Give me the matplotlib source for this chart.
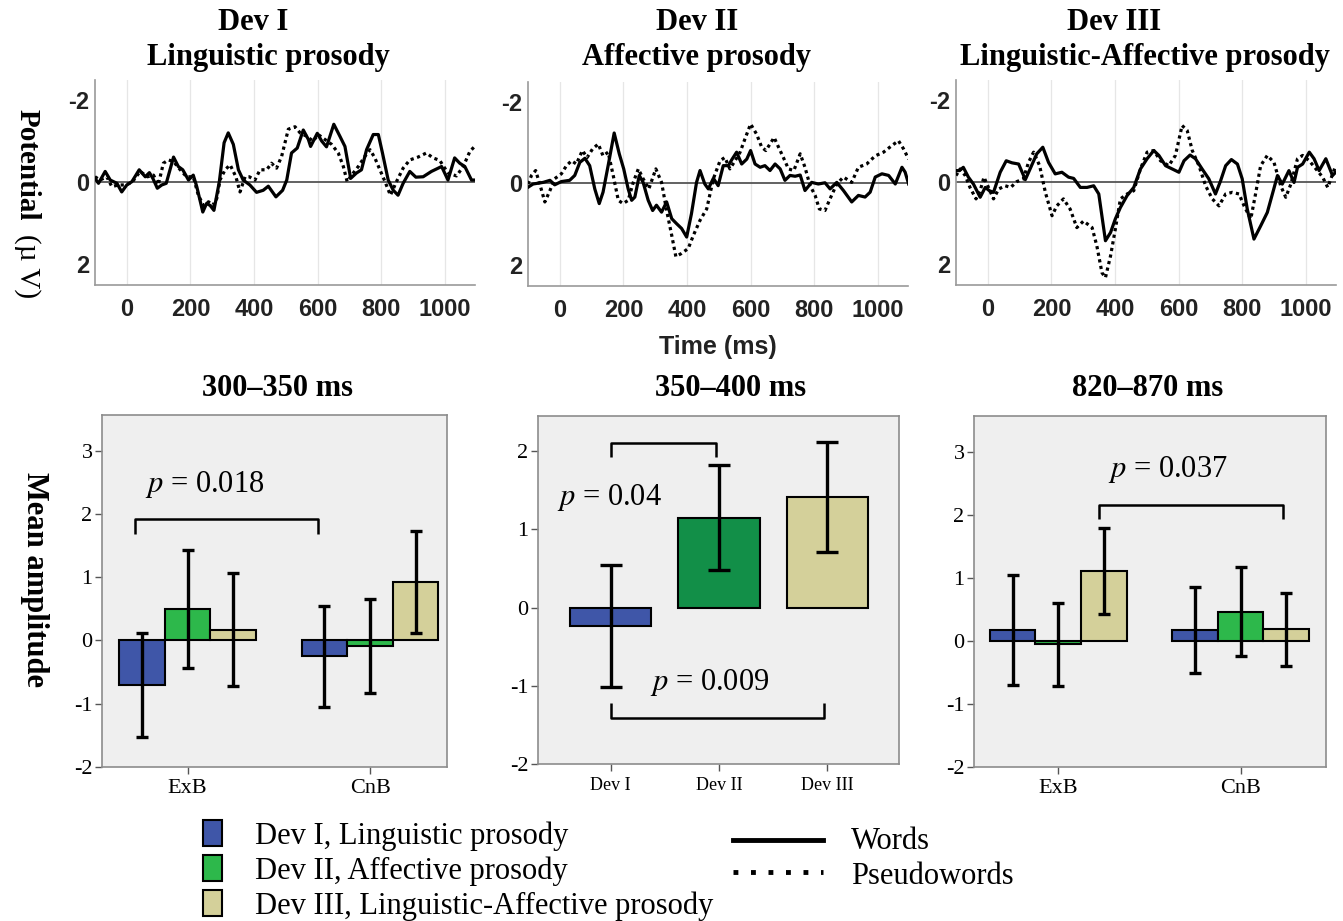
import matplotlib
matplotlib.use("Agg")
import matplotlib.pyplot as plt
from matplotlib.lines import Line2D
from matplotlib.patches import Rectangle

plt.rcParams['mathtext.fontset'] = 'stix'
plt.rcParams['axes.unicode_minus'] = False
SERIF = ['Liberation Serif', 'DejaVu Serif']
NARROW = ['Liberation Sans Narrow', 'Liberation Sans', 'DejaVu Sans']

# ---------------- data ----------------
panel_titles = ["Dev I", "Dev II", "Dev III"]
panel_subtitles = ["Linguistic prosody", "Affective prosody", "Linguistic-Affective prosody"]
window_titles = ["300\u2013350 ms", "350\u2013400 ms", "820\u2013870 ms"]
erp_xticks = [0, 200, 400, 600, 800, 1000]
erp_yticks = [-2, 0, 2]

# ERP waveforms (time ms, potential µV); negative plotted upward
t_d1_words = [-100, -89, -68, -52, -31, -16, 0, 16, 39, 58, 71, 82, 96, 110, 124, 147, 162, 176, 194, 209,
              220, 239, 251, 262, 274, 291, 306, 319, 335, 351, 366, 387, 408, 429, 445, 469, 490, 503, 518,
              536, 555, 571, 578, 599, 613, 628, 651, 670, 686, 704, 722, 738, 754, 775, 791, 804, 822, 838,
              853, 869, 890, 909, 932, 958, 990, 1010, 1031, 1047, 1063, 1084, 1094]
v_d1_words = [-0.08, 0.04, -0.25, -0.04, 0.04, 0.25, 0.08, 0.0, -0.29, -0.12, -0.22, -0.08, 0.16, 0.08, 0.04,
              -0.60, -0.37, -0.29, -0.04, -0.16, 0.12, 0.74, 0.53, 0.58, 0.70, 0.0, -0.95, -1.19, -0.91, -0.29,
              -0.04, 0.08, 0.26, 0.21, 0.11, 0.37, 0.21, -0.04, -0.70, -0.82, -1.26, -1.03, -0.86, -1.18, -0.99,
              -0.85, -1.40, -1.11, -0.86, -0.08, -0.21, -0.29, -0.78, -1.15, -1.15, -0.70, -0.04, 0.21, 0.33,
              0.04, -0.25, -0.11, -0.12, -0.25, -0.37, -0.04, -0.58, -0.45, -0.37, -0.04, -0.04]
t_d1_pseudo = [-100, -84, -63, -47, -26, -5, 16, 42, 65, 84, 99, 115, 131, 147, 168, 188, 209, 225, 241, 257,
               270, 283, 293, 309, 325, 343, 356, 372, 385, 403, 419, 440, 455, 471, 487, 508, 529, 545, 565,
               586, 602, 623, 644, 665, 681, 693, 707, 728, 749, 765, 780, 796, 812, 829, 848, 869, 890, 916,
               942, 963, 984, 1010, 1037, 1058, 1079, 1094]
v_d1_pseudo = [-0.12, -0.04, -0.12, 0.12, 0.08, 0.08, 0.02, -0.25, -0.12, -0.16, 0.08, -0.45, -0.53, -0.49,
               -0.29, -0.12, -0.12, 0.33, 0.58, 0.49, 0.58, 0.41, -0.04, -0.29, -0.41, -0.12, 0.25, -0.12,
               -0.12, -0.04, -0.29, -0.29, -0.45, -0.33, -0.62, -1.28, -1.34, -1.19, -1.11, -0.99, -1.15, -1.03,
               -0.91, -0.70, -0.37, 0.0, -0.16, -0.37, -0.62, -0.78, -0.58, -0.29, 0.0, 0.33, 0.0, -0.33, -0.53,
               -0.60, -0.70, -0.58, -0.52, -0.21, -0.14, -0.37, -0.74, -0.86]

t_d2_words = [-100, -84, -52, -31, -16, 5, 31, 47, 63, 79, 94, 110, 124, 136, 152, 171, 187, 201, 215, 226,
              236, 250, 262, 278, 292, 304, 320, 336, 352, 367, 383, 399, 414, 430, 441, 456, 467, 483, 498,
              514, 530, 542, 556, 572, 588, 600, 614, 630, 645, 661, 677, 693, 708, 724, 740, 756, 771, 792,
              813, 834, 850, 871, 892, 918, 939, 960, 976, 992, 1013, 1034, 1055, 1076, 1086, 1097]
v_d2_words = [0.10, 0.02, -0.02, -0.07, 0.04, -0.04, -0.07, -0.19, -0.51, -0.61, -0.43, 0.14, 0.50, 0.22,
              -0.43, -1.23, -0.72, -0.35, 0.14, 0.42, 0.34, -0.19, -0.02, 0.42, 0.67, 0.54, 0.71, 0.46, 0.87,
              0.99, 1.11, 1.32, 0.75, -0.02, -0.31, 0.02, 0.14, -0.12, 0.06, -0.43, -0.43, -0.59, -0.76, -0.47,
              -0.59, -0.80, -0.47, -0.39, -0.43, -0.31, -0.47, -0.35, -0.07, -0.19, -0.17, -0.20, 0.18, -0.02,
              0.02, -0.01, 0.14, -0.02, 0.18, 0.46, 0.30, 0.34, 0.22, -0.15, -0.23, -0.19, 0.02, -0.39, -0.27,
              0.02]
t_d2_pseudo = [-100, -89, -76, -63, -47, -31, -16, 5, 21, 37, 52, 71, 86, 103, 121, 136, 152, 168, 184, 199,
               215, 231, 247, 262, 280, 302, 320, 336, 352, 365, 383, 404, 420, 441, 462, 483, 504, 519, 535,
               551, 567, 582, 600, 619, 635, 648, 661, 674, 688, 703, 719, 736, 756, 771, 787, 803, 816, 834,
               850, 871, 892, 918, 939, 965, 992, 1018, 1044, 1065, 1081, 1097]
v_d2_pseudo = [0.02, -0.19, -0.31, 0.02, 0.46, 0.18, -0.11, -0.23, -0.43, -0.55, -0.47, -0.80, -0.63, -0.84,
               -0.96, -0.67, -0.76, -0.19, 0.42, 0.50, 0.42, -0.02, -0.35, -0.11, 0.14, -0.35, -0.02, 0.67,
               1.28, 1.80, 1.72, 1.60, 1.28, 0.91, 0.63, -0.11, -0.55, -0.63, -0.35, -0.55, -0.76, -1.08, -1.45,
               -1.20, -0.88, -0.80, -0.96, -1.12, -0.88, -0.63, -0.35, -0.31, -0.72, -0.39, 0.06, 0.30, 0.63,
               0.67, 0.38, 0.02, -0.15, -0.02, -0.39, -0.47, -0.67, -0.76, -0.92, -1.04, -0.84, -0.59]

t_d3_words = [-100, -89, -77, -61, -45, -24, -8, 5, 18, 39, 58, 76, 97, 118, 133, 154, 173, 191, 212, 233,
              254, 270, 291, 312, 333, 349, 370, 386, 401, 417, 438, 459, 480, 501, 522, 538, 559, 580, 601,
              617, 636, 653, 674, 695, 716, 732, 748, 766, 785, 800, 816, 837, 858, 879, 895, 911, 926, 947,
              963, 974, 990, 1011, 1026, 1042, 1063, 1084, 1094]
v_d3_words = [-0.27, -0.27, -0.35, -0.11, 0.06, 0.38, 0.14, 0.22, 0.26, -0.23, -0.51, -0.46, -0.43, -0.05,
              -0.31, -0.68, -0.84, -0.47, -0.19, -0.23, -0.11, -0.08, 0.14, 0.14, 0.10, 0.30, 1.44, 1.24, 0.91,
              0.63, 0.34, 0.14, -0.31, -0.56, -0.76, -0.64, -0.39, -0.31, -0.23, -0.51, -0.65, -0.56, -0.31,
              -0.07, 0.30, -0.02, -0.39, -0.54, -0.43, -0.07, 0.67, 1.40, 1.08, 0.75, 0.30, -0.15, 0.06, -0.27,
              0.02, -0.35, -0.43, -0.72, -0.56, -0.27, -0.56, -0.15, -0.23]
t_d3_pseudo = [-100, -87, -71, -56, -37, -24, -12, 2, 18, 34, 55, 72, 91, 112, 128, 144, 163, 181, 202, 217,
               238, 259, 280, 301, 328, 343, 359, 370, 386, 401, 417, 438, 459, 480, 501, 522, 543, 569, 590,
               611, 627, 643, 664, 685, 706, 727, 748, 769, 790, 806, 827, 842, 858, 879, 900, 921, 937, 953,
               974, 990, 1011, 1032, 1053, 1069, 1094]
v_d3_pseudo = [-0.15, -0.31, -0.15, 0.14, 0.42, 0.22, -0.11, 0.14, 0.42, 0.18, 0.10, 0.14, 0.0, -0.07, -0.47,
               -0.72, -0.39, 0.26, 0.83, 0.59, 0.42, 0.67, 1.12, 0.96, 1.12, 1.57, 2.22, 2.34, 1.81, 1.16, 0.42,
               0.30, 0.22, -0.31, -0.72, -0.76, -0.51, -0.39, -0.64, -1.37, -1.25, -0.76, -0.39, 0.10, 0.42,
               0.59, 0.30, 0.26, 0.30, 0.59, 0.91, 0.30, -0.39, -0.64, -0.47, 0.10, 0.38, 0.06, -0.56, -0.64,
               -0.51, -0.31, -0.11, 0.14, -0.39]

# Bar charts
group_labels = ["ExB", "CnB"]
dev_labels = ["Dev I", "Dev II", "Dev III"]
bar_yticks_a = [-2, -1, 0, 1, 2, 3]
bar_yticks_b = [-2, -1, 0, 1, 2]

# window 300-350 ms: per condition [ExB, CnB]
w1_dev1_mean = [-0.71, -0.25]
w1_dev1_err = [0.82, 0.80]
w1_dev2_mean = [0.50, -0.09]
w1_dev2_err = [0.93, 0.74]
w1_dev3_mean = [0.17, 0.92]
w1_dev3_err = [0.89, 0.81]

# window 350-400 ms: [Dev I, Dev II, Dev III]
w2_mean = [-0.23, 1.15, 1.41]
w2_err = [0.78, 0.67, 0.70]

# window 820-870 ms
w3_dev1_mean = [0.17, 0.17]
w3_dev1_err = [0.87, 0.68]
w3_dev2_mean = [-0.06, 0.46]
w3_dev2_err = [0.66, 0.71]
w3_dev3_mean = [1.10, 0.18]
w3_dev3_err = [0.68, 0.58]

p_texts = ["0.018", "0.04", "0.009", "0.037"]
legend_dev = ["Dev I, Linguistic prosody", "Dev II, Affective prosody", "Dev III, Linguistic-Affective prosody"]
legend_lines = ["Words", "Pseudowords"]

BLUE = "#3f56a8"
GREEN = "#2db84b"
DKGREEN = "#128f48"
TAN = "#d4d09a"

# ---------------- figure ----------------
W, H = 1343, 921
fig = plt.figure(figsize=(W / 100, H / 100), dpi=100)
fig.patch.set_facecolor("white")


def ax_px(l, t, r, b):
    return fig.add_axes([l / W, 1 - b / H, (r - l) / W, (b - t) / H])


def ftext(x, y, s, **kw):
    return fig.text(x / W, 1 - y / H, s, **kw)


# ---- ERP panels ----
erp_boxes = [(95, 80, 475, 285), (528, 82, 908, 286), (956, 80, 1336, 285)]
erp_data = [(t_d1_words, v_d1_words, t_d1_pseudo, v_d1_pseudo),
            (t_d2_words, v_d2_words, t_d2_pseudo, v_d2_pseudo),
            (t_d3_words, v_d3_words, t_d3_pseudo, v_d3_pseudo)]
for box, (tw, vw, tp, vp) in zip(erp_boxes, erp_data):
    ax = ax_px(*box)
    ax.set_xlim(-100, 1095)
    ax.set_ylim(2.52, -2.48)
    for xt in erp_xticks:
        ax.axvline(xt, color="#e6e6e6", lw=0.9, zorder=0)
    ax.axhline(0, color="#555555", lw=1.3, zorder=1)
    ax.plot(tp, vp, color="black", lw=2.3, linestyle=(0, (1, 1.1)), zorder=3)
    ax.plot(tw, vw, color="black", lw=2.3, zorder=4, solid_joinstyle="round")
    for s in ["top", "right"]:
        ax.spines[s].set_visible(False)
    for s in ["left", "bottom"]:
        ax.spines[s].set_color("#9a9a9a")
        ax.spines[s].set_linewidth(1.2)
    ax.set_xticks(erp_xticks)
    ax.set_yticks(erp_yticks)
    ax.tick_params(length=0)
    ax.tick_params(axis="x", pad=9)
    ax.tick_params(axis="y", pad=4)
    for lab in ax.get_xticklabels() + ax.get_yticklabels():
        lab.set_fontfamily(NARROW)
        lab.set_fontweight("bold")
        lab.set_fontsize(17)
        lab.set_color("#222222")
    ax.patch.set_alpha(0)

# ERP titles
title_x_top = [253, 697, 1114]
title_x_sub = [268, 697, 1145]
for i in range(3):
    ftext(title_x_top[i], 22, panel_titles[i], ha="center", va="center", fontsize=22,
          fontweight="bold", family=SERIF)
    ftext(title_x_sub[i], 57, panel_subtitles[i], ha="center", va="center", fontsize=22,
          fontweight="bold", family=SERIF)

ftext(718, 347, "Time (ms)", ha="center", va="center", fontsize=18, fontweight="bold",
      family=NARROW, color="#222222")
ftext(27, 165, "Potential", ha="center", va="center", rotation=-90, fontsize=21,
      fontweight="bold", family=SERIF)
ftext(27, 266, "(\u00b5 V)", ha="center", va="center", rotation=-90, fontsize=21, family=SERIF)
ftext(34, 580, "Mean amplitude", ha="center", va="center", rotation=-90, fontsize=22,
      fontweight="bold", family=SERIF)

# window titles
win_x = [278, 731, 1148]
for x, s in zip(win_x, window_titles):
    ftext(x, 388, s, ha="center", va="center", fontsize=22, fontweight="bold", family=SERIF)


def style_bar_axes(ax, yticks, xticks, xlabels, xfs):
    ax.set_facecolor("#efefef")
    for s in ax.spines.values():
        s.set_color("#8c8c8c")
        s.set_linewidth(1.2)
    ax.set_yticks(yticks)
    ax.set_xticks(xticks)
    ax.set_xticklabels(xlabels)
    ax.tick_params(axis="both", direction="out", length=5, width=1.0, color="#555555")
    ax.tick_params(axis="x", pad=4)
    ax.tick_params(axis="y", pad=2)
    for lab in ax.get_yticklabels():
        lab.set_fontfamily(SERIF)
        lab.set_fontsize(16)
    for lab in ax.get_xticklabels():
        lab.set_fontfamily(SERIF)
        lab.set_fontsize(xfs)


def bracket(ax, x0, x1, y, yleg):
    ax.plot([x0, x0, x1, x1], [yleg, y, y, yleg], color="black", lw=1.8,
            solid_joinstyle="round", solid_capstyle="butt", zorder=6)


def ptext(ax, x, y, val):
    ax.text(x, y, r"$p$ = " + val, ha="center", va="center", fontsize=22, family=SERIF, zorder=7)


ebkw = dict(ecolor="black", elinewidth=2.4, capthick=2.4, fmt="none", zorder=5)

# ---- window 1 ----
ax1 = ax_px(102.3, 415, 446.7, 766.7)
ax1.set_xlim(-0.468, 1.42)
ax1.set_ylim(-2, 3.57)
pos = [0, 1]
bw = 0.25
for off, m, e, c in [(-bw, w1_dev1_mean, w1_dev1_err, BLUE), (0, w1_dev2_mean, w1_dev2_err, GREEN),
                     (bw, w1_dev3_mean, w1_dev3_err, TAN)]:
    xs = [p + off for p in pos]
    ax1.bar(xs, m, width=bw, color=c, edgecolor="black", linewidth=1.5, zorder=3)
    ax1.errorbar(xs, m, yerr=e, capsize=4, **ebkw)
style_bar_axes(ax1, bar_yticks_a, pos, group_labels, 16)
bracket(ax1, -0.289, 0.716, 1.92, 1.68)
ptext(ax1, 0.095, 2.47, p_texts[0])

# ---- window 2 ----
ax2 = ax_px(538.3, 415.7, 899.3, 764.3)
ax2.set_xlim(-0.668, 2.665)
ax2.set_ylim(-2, 2.45)
pos2 = [0, 1, 2]
ax2.bar(pos2, w2_mean, width=0.75, color=[BLUE, DKGREEN, TAN], edgecolor="black", linewidth=1.5, zorder=3)
ax2.errorbar(pos2, w2_mean, yerr=w2_err, capsize=8, **ebkw)
style_bar_axes(ax2, bar_yticks_b, pos2, dev_labels, 13)
bracket(ax2, 0.0, 0.97, 2.107, 1.92)
bracket(ax2, 0.0, 1.97, -1.405, -1.22)
ptext(ax2, -0.01, 1.40, p_texts[1])
ptext(ax2, 0.917, -0.96, p_texts[2])

# ---- window 3 ----
ax3 = ax_px(974.3, 415.7, 1326, 766.7)
ax3.set_xlim(-0.46, 1.468)
ax3.set_ylim(-2, 3.57)
for off, m, e, c in [(-bw, w3_dev1_mean, w3_dev1_err, BLUE), (0, w3_dev2_mean, w3_dev2_err, GREEN),
                     (bw, w3_dev3_mean, w3_dev3_err, TAN)]:
    xs = [p + off for p in pos]
    ax3.bar(xs, m, width=bw, color=c, edgecolor="black", linewidth=1.5, zorder=3)
    ax3.errorbar(xs, m, yerr=e, capsize=4, **ebkw)
style_bar_axes(ax3, bar_yticks_a, pos, group_labels, 16)
bracket(ax3, 0.224, 1.23, 2.15, 1.93)
ptext(ax3, 0.60, 2.72, p_texts[3])

# ---- legend ----
sw_y = [833, 868, 903]
for y, c, s in zip(sw_y, [BLUE, GREEN, TAN], legend_dev):
    fig.patches.append(Rectangle(((203) / W, 1 - (y + 13) / H), 19 / W, 26 / H, transform=fig.transFigure,
                                 facecolor=c, edgecolor="black", linewidth=1.5))
    ftext(255, y + 3, s, ha="left", va="center", fontsize=22, family=SERIF)

fig.lines.append(Line2D([733 / W, 823 / W], [1 - 840 / H, 1 - 840 / H], transform=fig.transFigure,
                        color="black", lw=3.5))
fig.lines.append(Line2D([733 / W, 823 / W], [1 - 872 / H, 1 - 872 / H], transform=fig.transFigure,
                        color="black", lw=3.5, linestyle=(0, (1, 2.6))))
ftext(851, 841, legend_lines[0], ha="left", va="center", fontsize=22, family=SERIF)
ftext(851, 876, legend_lines[1], ha="left", va="center", fontsize=22, family=SERIF)

fig.savefig("out.png", dpi=100, facecolor="white")
